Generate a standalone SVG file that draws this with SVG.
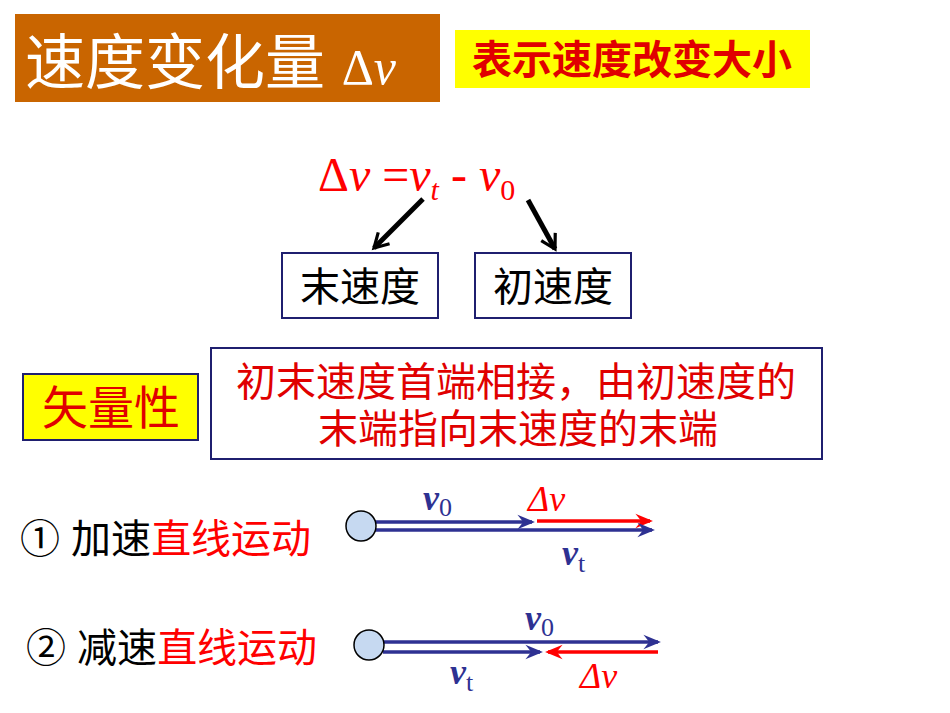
<svg xmlns="http://www.w3.org/2000/svg" width="950" height="713" viewBox="0 0 950 713">
<style>
.cn{font-family:"Liberation Sans","Noto Sans CJK SC",sans-serif}
.it{font-family:"Liberation Serif",serif;font-style:italic}
.bl{stroke:#2E3192;stroke-width:3.5}
.rd{stroke:#FF0000;stroke-width:3.5}
.box{fill:#fff;stroke:#1F1F6F;stroke-width:2}
</style>
<defs>
<marker id="mb" viewBox="0 0 12 10" refX="10" refY="5" markerWidth="5" markerHeight="5" orient="auto" markerUnits="strokeWidth"><path d="M0,0 L12,5 L0,10 L4,5 z" fill="#2E3192"/></marker>
<marker id="mr" viewBox="0 0 12 10" refX="10" refY="5" markerWidth="5" markerHeight="5" orient="auto" markerUnits="strokeWidth"><path d="M0,0 L12,5 L0,10 L4,5 z" fill="#FF0000"/></marker>
<marker id="mk" viewBox="0 0 10 10" refX="8" refY="5" markerWidth="4" markerHeight="4" orient="auto" markerUnits="strokeWidth"><path d="M1,1 L8,5 L1,9" fill="none" stroke="#000" stroke-width="1.6"/></marker>
</defs>
<rect width="950" height="713" fill="#fff"/>
<g id="title"><rect x="15" y="14" width="425" height="88" fill="#C96500"/>
<text x="25" y="84" class="cn" font-size="60" fill="#fff">速度变化量 <tspan font-family="Liberation Serif,serif" font-size="50">Δ</tspan><tspan class="it" font-size="50">v</tspan></text></g>
<g id="subtitle"><rect x="455" y="30" width="355" height="58" fill="#FFFF00"/>
<text x="632" y="74" class="cn" font-size="40" font-weight="bold" fill="#E00000" text-anchor="middle">表示速度改变大小</text></g>
<g id="formula"><text x="318" y="191" font-family="Liberation Serif,serif" font-size="48" fill="#FF0000">Δ<tspan font-style="italic">v</tspan> =<tspan font-style="italic">v</tspan><tspan font-style="italic" font-size="30" dy="9">t</tspan><tspan dy="-9"> - </tspan><tspan font-style="italic">v</tspan><tspan font-size="30" dy="9">0</tspan></text></g>
<g id="connectors">
<line x1="423" y1="199" x2="374" y2="248" stroke="#000" stroke-width="5" marker-end="url(#mk)"/>
<line x1="528" y1="200" x2="555" y2="249" stroke="#000" stroke-width="5" marker-end="url(#mk)"/>
<line x1="375" y1="522" x2="532" y2="522" class="bl" marker-end="url(#mb)"/>
<line x1="537" y1="521" x2="650" y2="521" class="rd" marker-end="url(#mr)"/>
<line x1="375" y1="530" x2="652" y2="530" class="bl" marker-end="url(#mb)"/>
<line x1="383" y1="642" x2="658" y2="642" class="bl" marker-end="url(#mb)"/>
<line x1="383" y1="652" x2="540" y2="652" class="bl" marker-end="url(#mb)"/>
<line x1="658" y1="652" x2="548" y2="652" class="rd" marker-end="url(#mr)"/>
</g>
<g id="vt-box"><rect x="282" y="253" width="156" height="65" class="box"/><text x="360" y="301" class="cn" font-size="40" text-anchor="middle">末速度</text></g>
<g id="v0-box"><rect x="475" y="253" width="156" height="65" class="box"/><text x="553" y="301" class="cn" font-size="40" text-anchor="middle">初速度</text></g>
<g id="vector"><rect x="23" y="374" width="175" height="66" fill="#FFFF00" stroke="#1F1F6F" stroke-width="2"/><text x="111" y="424" class="cn" font-size="46" fill="#E00000" text-anchor="middle">矢量性</text></g>
<g id="desc"><rect x="211" y="348" width="611" height="111" class="box"/>
<text x="516" y="396" class="cn" font-size="40" fill="#E00000" text-anchor="middle">初末速度首端相接，由初速度的</text>
<text x="518" y="443" class="cn" font-size="40" fill="#E00000" text-anchor="middle">末端指向末速度的末端</text></g>
<g id="case1"><text x="20" y="553" class="cn" font-size="40">① 加速<tspan fill="#FF0000">直线运动</tspan></text>
<circle cx="361" cy="526" r="15" fill="#C6D9F1" stroke="#000" stroke-width="1.5"/>
<text x="423" y="510" class="it" font-size="36" fill="#2E3192" font-weight="bold">v<tspan font-style="normal" font-weight="normal" font-size="26" dy="6">0</tspan></text>
<text x="528" y="511" class="it" font-size="36" fill="#FF0000">Δv</text>
<text x="562" y="565" class="it" font-size="36" fill="#2E3192" font-weight="bold">v<tspan font-style="normal" font-weight="normal" font-size="26" dy="7">t</tspan></text></g>
<g id="case2"><text x="26" y="662" class="cn" font-size="40">② 减速<tspan fill="#FF0000">直线运动</tspan></text>
<circle cx="369" cy="645" r="15" fill="#C6D9F1" stroke="#000" stroke-width="1.5"/>
<text x="525" y="630" class="it" font-size="36" fill="#2E3192" font-weight="bold">v<tspan font-style="normal" font-weight="normal" font-size="26" dy="6">0</tspan></text>
<text x="450" y="684" class="it" font-size="36" fill="#2E3192" font-weight="bold">v<tspan font-style="normal" font-weight="normal" font-size="26" dy="7">t</tspan></text>
<text x="580" y="688" class="it" font-size="36" fill="#FF0000">Δv</text></g>
</svg>
